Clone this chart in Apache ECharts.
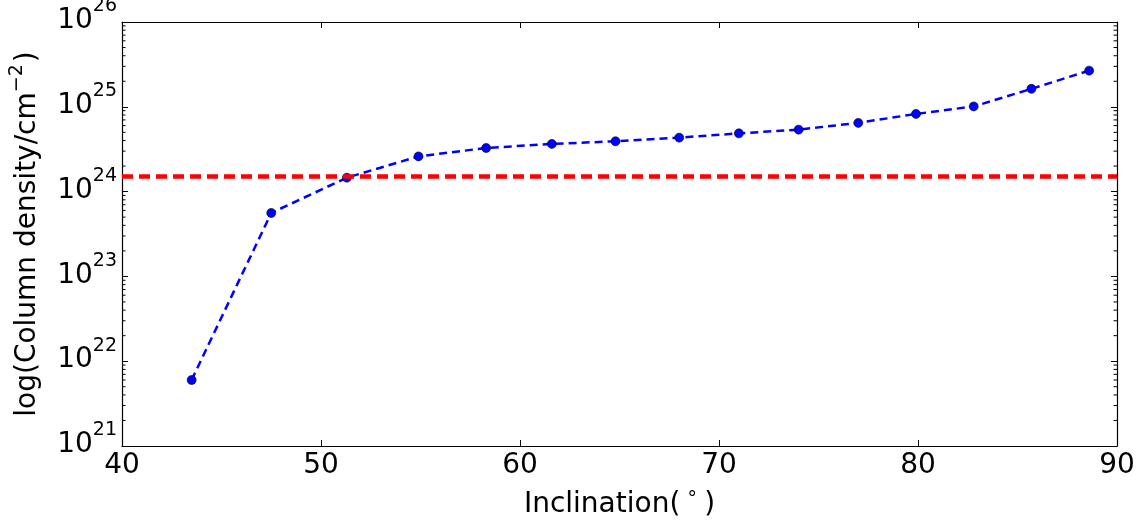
<!DOCTYPE html>
<html>
<head>
<meta charset="utf-8">
<script src="https://cdn.jsdelivr.net/npm/echarts@6/dist/echarts.min.js"></script>
<style>
  html, body { margin: 0; padding: 0; background: #fff; }
  #chart { width: 1137px; height: 520px; }
</style>
</head>
<body>
<div id="chart"></div>
<script>
  // inclination (deg) vs column density (cm^-2)
  const inclination = [43.5, 47.5, 51.3, 54.9, 58.3, 61.6, 64.8, 68.0, 71.0, 74.0, 77.0, 79.9, 82.8, 85.7, 88.6];
  const columnDensity = [6.0e21, 5.6e23, 1.46e24, 2.6e24, 3.27e24, 3.65e24, 3.92e24, 4.33e24, 4.86e24, 5.38e24, 6.46e24, 8.24e24, 1.01e25, 1.63e25, 2.67e25];
  const threshold = 1.5e24;
  const xTicks = [40, 50, 60, 70, 80, 90];
  const yDecades = [21, 22, 23, 24, 25, 26];

  const FONT = 'DejaVu Sans';
  const chart = echarts.init(document.getElementById('chart'));

  const tickStyle = { show: true, inside: true, length: 6, lineStyle: { color: '#000', width: 1 } };
  const lineStyle = { show: true, lineStyle: { color: '#000', width: 1.2 } };

  const yMin = Math.pow(10, yDecades[0]);
  const yMax = Math.pow(10, yDecades[yDecades.length - 1]);

  const option = {
    animation: false,
    backgroundColor: '#fff',
    grid: { left: 122, right: 20, top: 22, bottom: 74, containLabel: false, outerBoundsMode: 'none' },
    xAxis: [
      {
        type: 'value',
        min: xTicks[0],
        max: xTicks[xTicks.length - 1],
        interval: 10,
        position: 'bottom',
        axisLine: lineStyle,
        axisTick: tickStyle,
        splitLine: { show: false },
        axisLabel: { fontFamily: FONT, fontSize: 28, color: '#000', margin: 6 },
        name: '{t|Inclination(}{s|∘}{t|)}',
        nameLocation: 'middle',
        nameGap: 32,
        nameTextStyle: {
          rich: {
            t: { fontFamily: FONT, fontSize: 28, color: '#000', lineHeight: 34, verticalAlign: 'bottom' },
            s: { fontFamily: FONT, fontSize: 19, color: '#000', lineHeight: 22, verticalAlign: 'top', padding: [0, 6, 0, 6] }
          }
        }
      },
      {
        type: 'value',
        min: xTicks[0],
        max: xTicks[xTicks.length - 1],
        interval: 10,
        position: 'top',
        axisLine: lineStyle,
        axisTick: tickStyle,
        splitLine: { show: false },
        axisLabel: { show: false }
      }
    ],
    yAxis: [
      {
        type: 'log',
        logBase: 10,
        min: yMin,
        max: yMax,
        position: 'left',
        axisLine: lineStyle,
        axisTick: tickStyle,
        splitLine: { show: false },
        axisLabel: {
          margin: 5,
          padding: [0, 0, 12, 0],
          formatter: (v) => '{b|10}{s|' + Math.round(Math.log10(v)) + '}',
          rich: {
            b: { fontFamily: FONT, fontSize: 28, color: '#000', lineHeight: 38, verticalAlign: 'bottom' },
            s: { fontFamily: FONT, fontSize: 19, color: '#000', lineHeight: 19, verticalAlign: 'top' }
          }
        },
        name: '{t|log(Column density/cm}{s|−2}{t|)}',
        nameLocation: 'middle',
        nameRotate: 90,
        nameGap: 80,
        nameTextStyle: {
          rich: {
            t: { fontFamily: FONT, fontSize: 28, color: '#000', lineHeight: 34, verticalAlign: 'bottom' },
            s: { fontFamily: FONT, fontSize: 19, color: '#000', lineHeight: 22, verticalAlign: 'top', padding: [0, 2, 0, 0] }
          }
        }
      },
      {
        type: 'log',
        logBase: 10,
        min: yMin,
        max: yMax,
        position: 'right',
        axisLine: lineStyle,
        axisTick: tickStyle,
        splitLine: { show: false },
        axisLabel: { show: false }
      }
    ],
    series: [
      {
        type: 'line',
        xAxisIndex: 0,
        yAxisIndex: 0,
        data: inclination.map((x, i) => [x, columnDensity[i]]),
        symbol: 'circle',
        symbolSize: 9,
        itemStyle: { color: '#0000ff', borderColor: '#000', borderWidth: 0.6 },
        lineStyle: { color: '#0000ff', width: 2.5, type: [8, 5] },
        markLine: {
          silent: true,
          symbol: 'none',
          label: { show: false },
          lineStyle: { color: '#ff0000', width: 4.5, type: [11, 6] },
          data: [{ yAxis: threshold }]
        },
        z: 3
      }
    ]
  };

  chart.setOption(option);

  // minor log ticks (2..9 of each decade) on left and right spines
  const drawMinorTicks = () => {
    const rect = chart.getModel().getComponent('grid').coordinateSystem.getRect();
    const elements = [];
    for (let d = yDecades[0]; d < yDecades[yDecades.length - 1]; d++) {
      for (let m = 2; m <= 9; m++) {
        const y = chart.convertToPixel({ yAxisIndex: 0 }, m * Math.pow(10, d));
        elements.push({
          type: 'line', silent: true,
          shape: { x1: rect.x, y1: y, x2: rect.x + 3.5, y2: y },
          style: { stroke: '#000', lineWidth: 1 }
        });
        elements.push({
          type: 'line', silent: true,
          shape: { x1: rect.x + rect.width - 3.5, y1: y, x2: rect.x + rect.width, y2: y },
          style: { stroke: '#000', lineWidth: 1 }
        });
      }
    }
    chart.setOption({ graphic: { elements } });
  };
  drawMinorTicks();
</script>
</body>
</html>
